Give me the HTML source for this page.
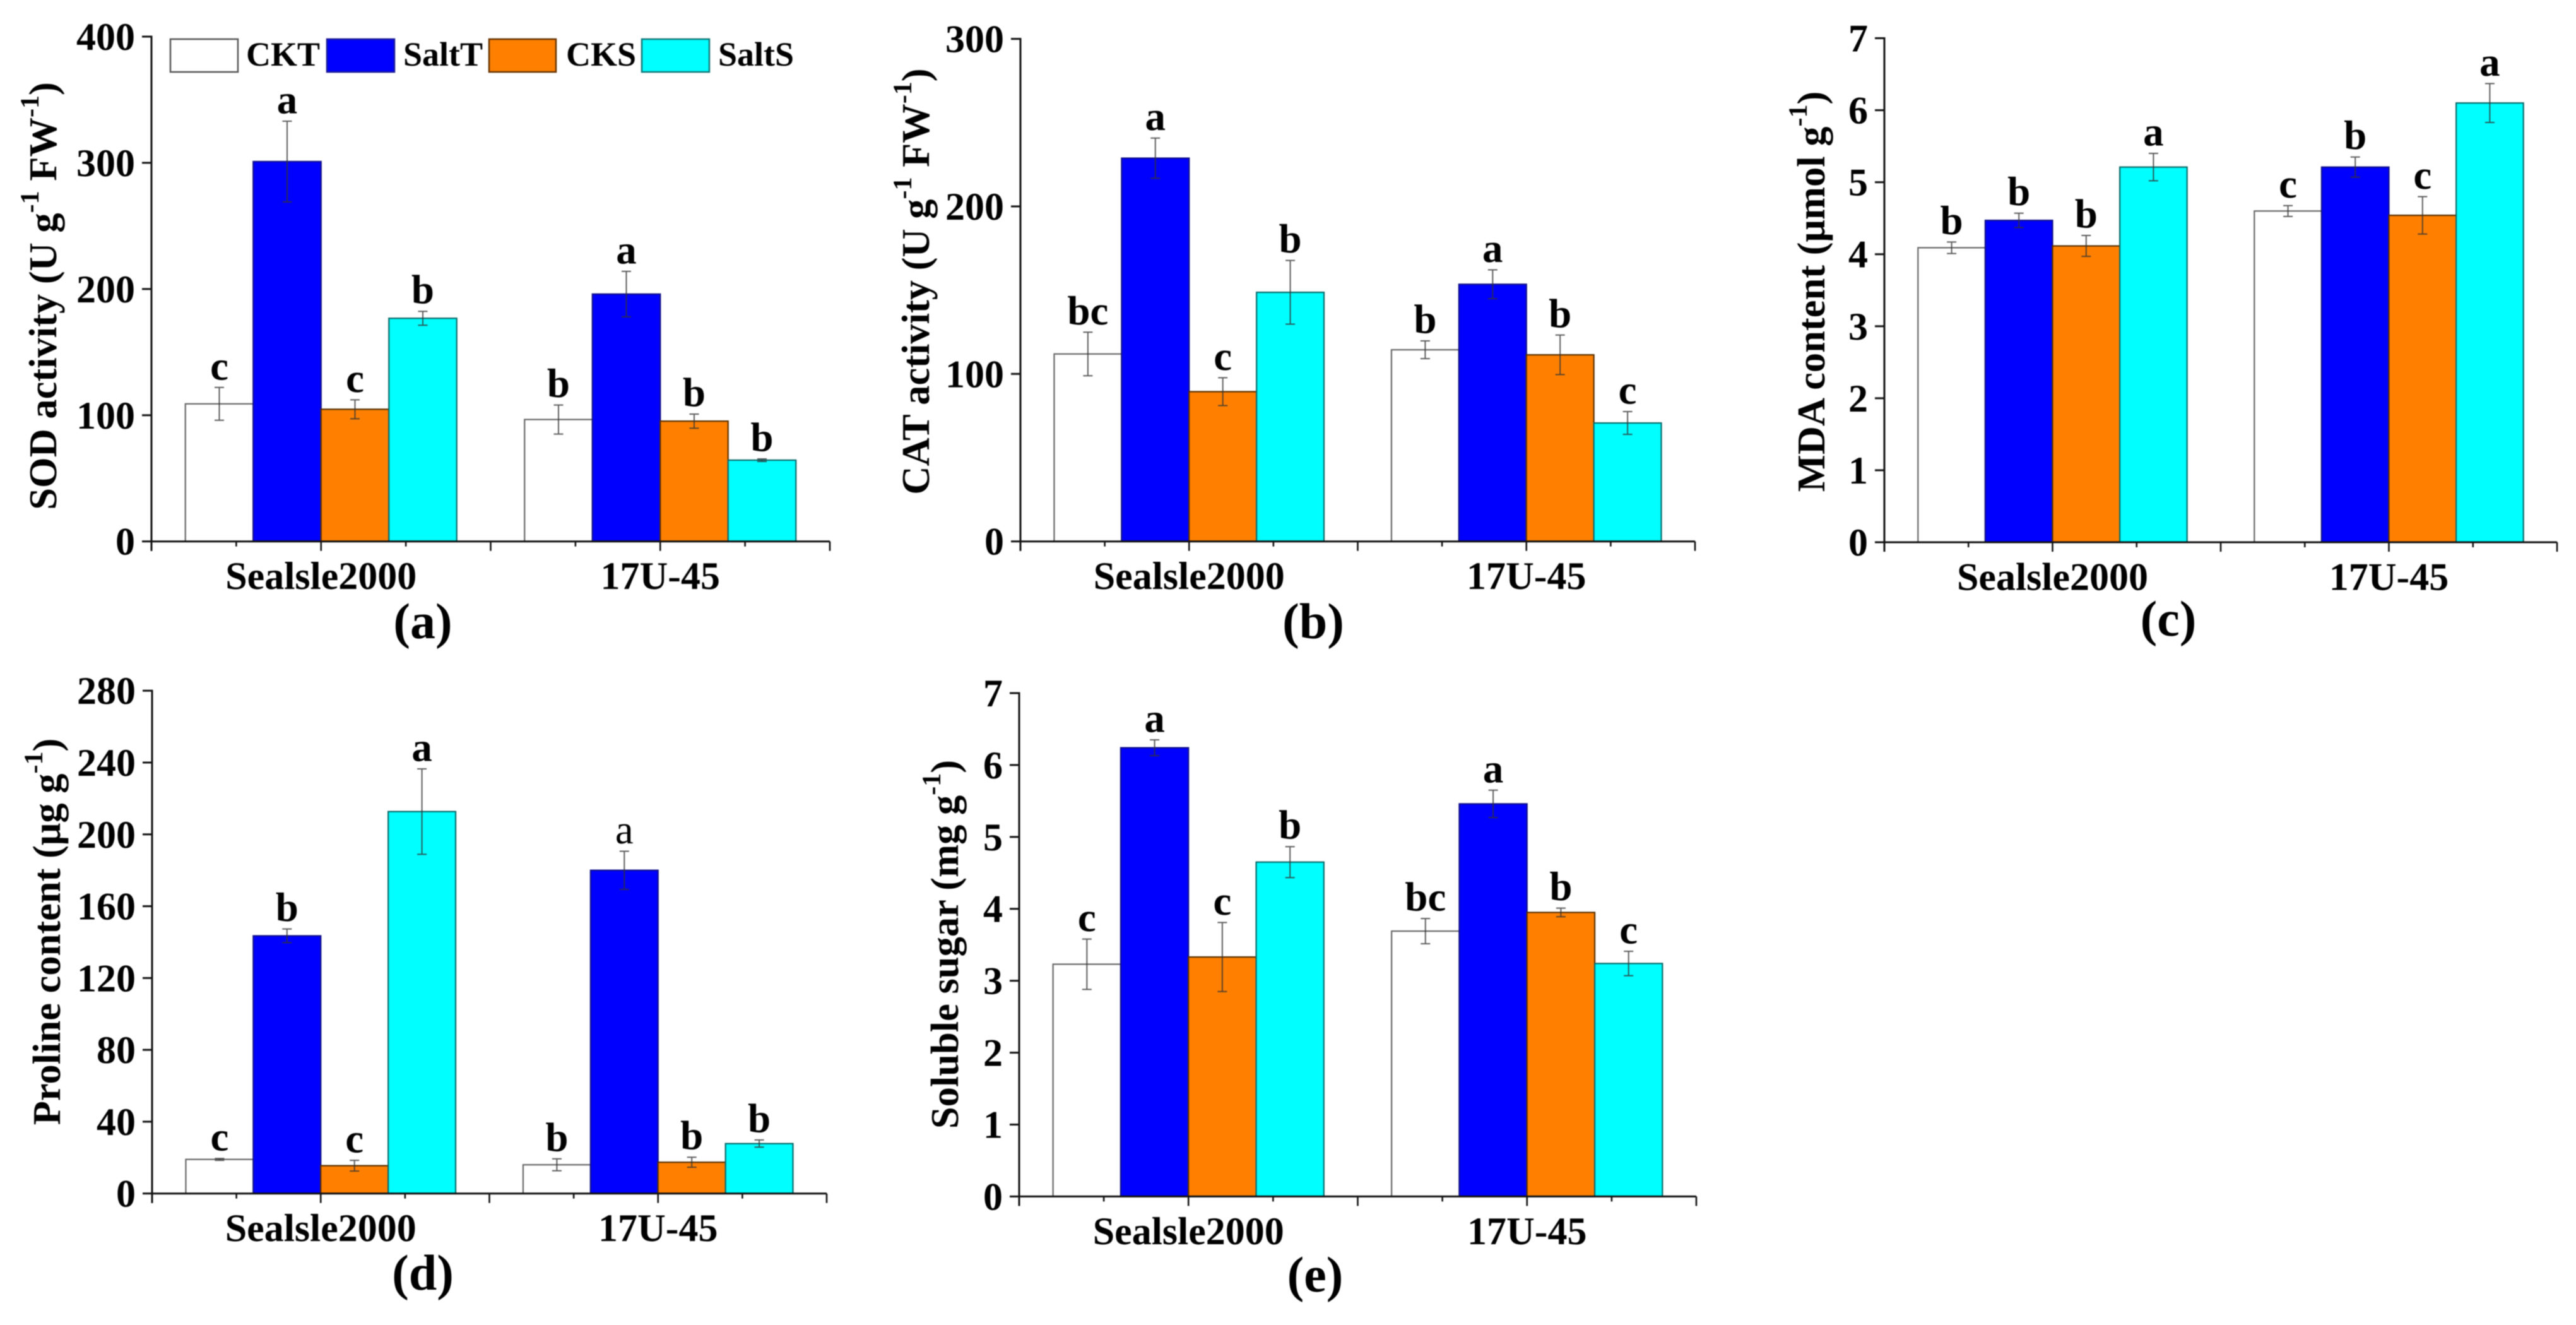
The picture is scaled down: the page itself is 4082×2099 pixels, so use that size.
<!DOCTYPE html>
<html lang="en">
<head>
<meta charset="utf-8">
<title>Antioxidant and osmolyte responses to salt</title>
<style>
  html, body { margin: 0; padding: 0; background: #fff; }
  svg { display: block; filter: blur(0.7px); }
  text { font-family: "Liberation Serif", serif; font-weight: bold; fill: #000; text-rendering: geometricPrecision; }
  .ytick { font-size: 62px; text-anchor: end; }
  .cat { font-size: 62px; text-anchor: middle; }
  .sig { font-size: 65px; text-anchor: middle; }
  .title { font-size: 62.5px; text-anchor: middle; }
  .plabel { font-size: 80px; text-anchor: middle; }
  .leg { font-size: 54px; }
</style>
</head>
<body>
<svg id="figure" xmlns="http://www.w3.org/2000/svg" width="4082" height="2099" viewBox="0 0 4082 2099">
  <rect x="0" y="0" width="4082" height="2099" fill="#ffffff"/>

  <text class="title" transform="translate(89,469) rotate(-90)">SOD activity (U g<tspan font-size="42" dy="-28">-1</tspan><tspan dy="28"> FW</tspan><tspan font-size="42" dy="-28">-1</tspan><tspan dy="28">)</tspan></text>
  <text class="title" transform="translate(1472,446) rotate(-90)">CAT activity (U g<tspan font-size="42" dy="-28">-1</tspan><tspan dy="28"> FW</tspan><tspan font-size="42" dy="-28">-1</tspan><tspan dy="28">)</tspan></text>
  <text class="title" transform="translate(2891,462) rotate(-90)">MDA content (μmol g<tspan font-size="42" dy="-28">-1</tspan><tspan dy="28">)</tspan></text>
  <text class="title" transform="translate(95,1476) rotate(-90)">Proline content (μg g<tspan font-size="42" dy="-28">-1</tspan><tspan dy="28">)</tspan></text>
  <text class="title" transform="translate(1518,1496) rotate(-90)">Soluble sugar (mg g<tspan font-size="42" dy="-28">-1</tspan><tspan dy="28">)</tspan></text>

  <text class="plabel" x="670" y="1011">(a)</text>
  <text class="plabel" x="2081" y="1011">(b)</text>
  <text class="plabel" x="3436" y="1007">(c)</text>
  <text class="plabel" x="670" y="2043">(d)</text>
  <text class="plabel" x="2084" y="2046">(e)</text>

  <g id="marks"></g>

  <g>
    <rect x="270" y="62" width="107" height="52" fill="#ffffff" stroke="#555555" stroke-width="2.5"/>
    <text class="leg" x="390" y="104">CKT</text>
    <rect x="518" y="62" width="107" height="52" fill="#0000ff" stroke="#1a1a99" stroke-width="2.5"/>
    <text class="leg" x="639" y="104">SaltT</text>
    <rect x="775" y="62" width="106" height="52" fill="#ff8000" stroke="#663300" stroke-width="2.5"/>
    <text class="leg" x="897" y="104">CKS</text>
    <rect x="1017" y="62" width="107" height="52" fill="#00ffff" stroke="#117777" stroke-width="2.5"/>
    <text class="leg" x="1138" y="104">SaltS</text>
  </g>
</svg>

<script>
const categories = ["Sealsle2000", "17U-45"];
const seriesNames = ["CKT", "SaltT", "CKS", "SaltS"];

const sodValues = [[109, 301, 104.7, 176.8], [96.6, 196, 95.3, 64.4]];
const sodErrors = [[13, 32, 7.5, 5.5], [11.5, 18, 5.6, 1]];
const sodLetters = [["c", "a", "c", "b"], ["b", "a", "b", "b"]];
const sodTicks = [0, 100, 200, 300, 400];

const catValues = [[111.9, 228.8, 89.4, 148.7], [114.4, 153.5, 111.4, 70.7]];
const catErrors = [[13, 12, 8.3, 19], [5.3, 8.6, 11.8, 6.8]];
const catLetters = [["bc", "a", "c", "b"], ["b", "a", "b", "c"]];
const catTicks = [0, 100, 200, 300];

const mdaValues = [[4.09, 4.47, 4.115, 5.21], [4.6, 5.21, 4.54, 6.1]];
const mdaErrors = [[0.08, 0.1, 0.145, 0.19], [0.075, 0.14, 0.26, 0.27]];
const mdaLetters = [["b", "b", "b", "a"], ["c", "b", "c", "a"]];
const mdaTicks = [0, 1, 2, 3, 4, 5, 6, 7];

const prolineValues = [[19, 143.5, 15.5, 212.7], [16, 180, 17.4, 27.8]];
const prolineErrors = [[0.5, 3.8, 3, 23.8], [3.3, 10.6, 2.8, 2]];
const prolineLetters = [["c", "b", "c", "a"], ["b", "a", "b", "b"]];
const prolineTicks = [0, 40, 80, 120, 160, 200, 240, 280];

const sugarValues = [[3.23, 6.24, 3.33, 4.65], [3.69, 5.46, 3.95, 3.24]];
const sugarErrors = [[0.35, 0.11, 0.48, 0.215], [0.175, 0.19, 0.06, 0.17]];
const sugarLetters = [["c", "a", "c", "b"], ["bc", "a", "b", "c"]];
const sugarTicks = [0, 1, 2, 3, 4, 5, 6, 7];

const barFills = ["#ffffff", "#0000ff", "#ff8000", "#00ffff"];
const barStrokes = ["#666666", "#10108a", "#5a3000", "#0a6a6a"];

const panels = [
  { key: "sod", values: sodValues, errors: sodErrors, letters: sodLetters, ticks: sodTicks, left: 240, right: 1315, y0: 857.7, yTop: 58 },
  { key: "cat", values: catValues, errors: catErrors, letters: catLetters, ticks: catTicks, left: 1617, right: 2686, y0: 857.7, yTop: 61.6 },
  { key: "mda", values: mdaValues, errors: mdaErrors, letters: mdaLetters, ticks: mdaTicks, left: 2986, right: 4052, y0: 859, yTop: 60.5 },
  { key: "proline", values: prolineValues, errors: prolineErrors, letters: prolineLetters, ticks: prolineTicks, left: 241, right: 1310, y0: 1890.7, yTop: 1094.2, regularLetter: [1, 1] },
  { key: "sugar", values: sugarValues, errors: sugarErrors, letters: sugarLetters, ticks: sugarTicks, left: 1615, right: 2688, y0: 1895.4, yTop: 1098 }
];

const NS = "http://www.w3.org/2000/svg";

function make(parent, tag, attrs) {
  const el = document.createElementNS(NS, tag);
  for (const k in attrs) el.setAttribute(k, attrs[k]);
  parent.appendChild(el);
  return el;
}

function drawPanel(p) {
  const root = document.getElementById("marks");
  const g = make(root, "g", {});
  
  

  const yMax = p.ticks[p.ticks.length - 1];
  const yScale = v => p.y0 - (v / yMax) * (p.y0 - p.yTop);
  const xScale = u => p.left + (u - 0.5) * (p.right - p.left) / categories.length;

  // bars
  p.values.forEach((group, c) => {
    group.forEach((v, s) => {
      const x = xScale(c + 1 + (s - 2) * 0.2);
      const w = xScale(c + 1 + (s - 1) * 0.2) - x;
      const bar = make(g, "rect", {
        x: x, y: yScale(v), width: w, height: p.y0 - yScale(v),
        fill: barFills[s], stroke: barStrokes[s], "stroke-width": 2.2
      });
      
      
    });
  });

  // error bars and significance letters
  p.values.forEach((group, c) => {
    group.forEach((v, s) => {
      const cx = xScale(c + 1 + (s - 1.5) * 0.2);
      const e = p.errors[c][s];
      const top = yScale(v + e);
      const bot = yScale(v - e);
      const eg = make(g, "path", {
        d: "M" + cx + " " + top + "V" + bot + "M" + (cx - 7.5) + " " + top + "H" + (cx + 7.5) + "M" + (cx - 7.5) + " " + bot + "H" + (cx + 7.5),
        fill: "none", stroke: "#333333", "stroke-width": 2, "stroke-opacity": 0.8
      });
      
      

      const t = make(g, "text", { class: "sig", x: cx, y: top - 12.5 });
      t.textContent = p.letters[c][s];
      if (p.regularLetter && p.regularLetter[0] === c && p.regularLetter[1] === s) t.style.fontWeight = "normal";
      
      
    });
  });

  // y axis
  const yAxis = make(g, "line", { x1: p.left, x2: p.left, y1: p.yTop - 1.5, y2: p.y0 + 15, stroke: "#111", "stroke-width": 3 });
  
  

  p.ticks.forEach(v => {
    const y = yScale(v);
    const tick = make(g, "line", { x1: p.left - 15, x2: p.left, y1: y, y2: y, stroke: "#111", "stroke-width": 3 });
    
    
    const label = make(g, "text", { class: "ytick", x: p.left - 26, y: y + 21 });
    label.textContent = String(v);
    
    
  });

  // x axis
  const xAxis = make(g, "line", { x1: p.left, x2: p.right, y1: p.y0, y2: p.y0, stroke: "#111", "stroke-width": 3 });
  
  

  for (let i = 0; i <= categories.length * 4; i++) {
    const u = 0.5 + i * 0.25;
    const major = i % 2 === 0;
    const tick = make(g, "line", { x1: xScale(u), x2: xScale(u), y1: p.y0, y2: p.y0 + (major ? 15 : 8), stroke: "#111", "stroke-width": 2.6 });
    
    
  }

  categories.forEach((name, c) => {
    const label = make(g, "text", { class: "cat", x: xScale(c + 1), y: p.y0 + 75.5 });
    label.textContent = name;
    
    
  });
}

panels.forEach(drawPanel);
</script>
</body>
</html>
